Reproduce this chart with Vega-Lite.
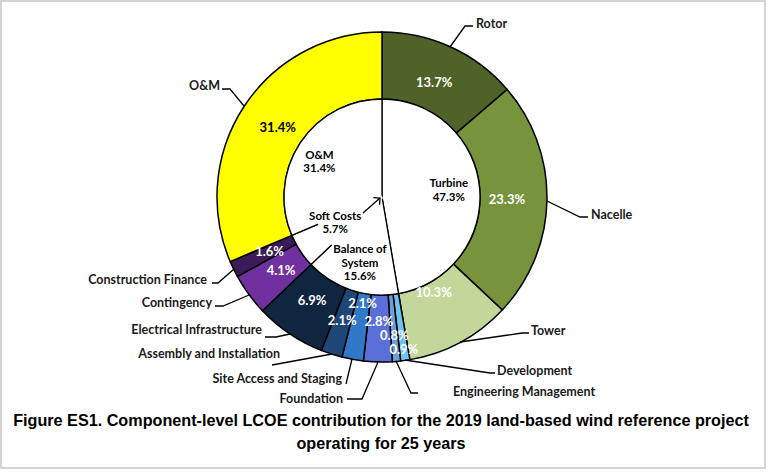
{
  "$schema": "https://vega.github.io/schema/vega-lite/v6.json",
  "width": 764,
  "height": 467,
  "autosize": {"type": "none"},
  "padding": {"left": 1, "top": 1, "right": 3, "bottom": 5},
  "background": "white",
  "view": {"stroke": "#d4d4d4", "strokeWidth": 2},
  "title": {
    "text": ["Figure ES1. Component-level LCOE contribution for the 2019 land-based wind reference project", "operating for 25 years"],
    "orient": "bottom",
    "anchor": "middle",
    "frame": "group",
    "offset": -55,
    "font": "Liberation Sans",
    "fontSize": 16.2,
    "fontWeight": "bold",
    "color": "#000000",
    "lineHeight": 23,
    "dx": -2
  },
  "datasets": {
    "components": [
      {"component": "Rotor", "group": "Turbine", "value": 13.7, "order": 1},
      {"component": "Nacelle", "group": "Turbine", "value": 23.3, "order": 2},
      {"component": "Tower", "group": "Turbine", "value": 10.3, "order": 3},
      {"component": "Development", "group": "Balance of System", "value": 0.9, "order": 4},
      {"component": "Engineering Management", "group": "Balance of System", "value": 0.8, "order": 5},
      {"component": "Foundation", "group": "Balance of System", "value": 2.8, "order": 6},
      {"component": "Site Access and Staging", "group": "Balance of System", "value": 2.1, "order": 7},
      {"component": "Assembly and Installation", "group": "Balance of System", "value": 2.1, "order": 8},
      {"component": "Electrical Infrastructure", "group": "Balance of System", "value": 6.9, "order": 9},
      {"component": "Contingency", "group": "Soft Costs", "value": 4.1, "order": 10},
      {"component": "Construction Finance", "group": "Soft Costs", "value": 1.6, "order": 11},
      {"component": "O&M", "group": "O&M", "value": 31.4, "order": 12}
    ],
    "callouts": [
      {"component": "Rotor", "x": 94, "y": 173},
      {"component": "Nacelle", "x": 209, "y": -18},
      {"component": "Tower", "x": 149, "y": -134},
      {"component": "Development", "x": 115, "y": -174},
      {"component": "Engineering Management", "x": 71, "y": -195},
      {"component": "Foundation", "x": -39, "y": -202},
      {"component": "Site Access and Staging", "x": -40, "y": -182},
      {"component": "Assembly and Installation", "x": -102, "y": -157},
      {"component": "Electrical Infrastructure", "x": -120, "y": -133},
      {"component": "Contingency", "x": -170, "y": -106},
      {"component": "Construction Finance", "x": -175, "y": -83},
      {"component": "O&M", "x": -162, "y": 111}
    ],
    "leaders": [
      {"id": "Rotor", "i": 1, "x": 68, "y": 150}, {"id": "Rotor", "i": 2, "x": 83, "y": 171}, {"id": "Rotor", "i": 3, "x": 91, "y": 171},
      {"id": "Nacelle", "i": 1, "x": 165, "y": -4}, {"id": "Nacelle", "i": 2, "x": 198, "y": -20}, {"id": "Nacelle", "i": 3, "x": 206, "y": -20},
      {"id": "Tower", "i": 1, "x": 78, "y": -145}, {"id": "Tower", "i": 2, "x": 140, "y": -136}, {"id": "Tower", "i": 3, "x": 147, "y": -136},
      {"id": "Development", "i": 1, "x": 23, "y": -163}, {"id": "Development", "i": 2, "x": 108, "y": -176}, {"id": "Development", "i": 3, "x": 113, "y": -176},
      {"id": "Engineering Management", "i": 1, "x": 14, "y": -164}, {"id": "Engineering Management", "i": 2, "x": 29, "y": -196}, {"id": "Engineering Management", "i": 3, "x": 36, "y": -196},
      {"id": "Foundation", "i": 1, "x": -4, "y": -165}, {"id": "Foundation", "i": 2, "x": -20, "y": -202}, {"id": "Foundation", "i": 3, "x": -35, "y": -202},
      {"id": "Site Access and Staging", "i": 1, "x": -30, "y": -162}, {"id": "Site Access and Staging", "i": 2, "x": -36, "y": -187},
      {"id": "Assembly and Installation", "i": 1, "x": -50, "y": -157}, {"id": "Assembly and Installation", "i": 2, "x": -110, "y": -168},
      {"id": "Electrical Infrastructure", "i": 1, "x": -92, "y": -137}, {"id": "Electrical Infrastructure", "i": 2, "x": -106, "y": -140}, {"id": "Electrical Infrastructure", "i": 3, "x": -117, "y": -140},
      {"id": "Contingency", "i": 1, "x": -133, "y": -98}, {"id": "Contingency", "i": 2, "x": -159, "y": -109}, {"id": "Contingency", "i": 3, "x": -167, "y": -109},
      {"id": "Construction Finance", "i": 1, "x": -148, "y": -72}, {"id": "Construction Finance", "i": 2, "x": -164, "y": -86}, {"id": "Construction Finance", "i": 3, "x": -170, "y": -86},
      {"id": "O&M", "i": 1, "x": -138, "y": 91}, {"id": "O&M", "i": 2, "x": -152, "y": 108}, {"id": "O&M", "i": 3, "x": -160, "y": 108},
      {"id": "arrow", "i": 1, "x": -19, "y": -16}, {"id": "arrow", "i": 2, "x": -2, "y": -1}
    ]
  },
  "layer": [
    {
      "data": {"name": "components"},
      "mark": {"type": "arc", "outerRadius": 165, "innerRadius": 98, "stroke": "#000000", "strokeWidth": 1.5},
      "encoding": {
        "x": {"value": {"expr": "scale('x', 0)"}},
        "y": {"value": {"expr": "scale('y', 0)"}},
        "theta": {"field": "value", "type": "quantitative", "stack": true, "scale": {"domain": [0, 100]}},
        "order": {"field": "order", "type": "quantitative"},
        "color": {
          "field": "component", "type": "nominal", "legend": null,
          "scale": {
            "domain": ["Rotor", "Nacelle", "Tower", "Development", "Engineering Management", "Foundation", "Site Access and Staging", "Assembly and Installation", "Electrical Infrastructure", "Contingency", "Construction Finance", "O&M"],
            "range": ["#4f6228", "#77933c", "#c4d79b", "#6ec3f0", "#6f9fd8", "#5a6fd8", "#3278c8", "#1e4677", "#10253f", "#7030a0", "#3d1a58", "#ffff00"]
          }
        }
      }
    },
    {
      "data": {"name": "components"},
      "transform": [
        {"aggregate": [{"op": "sum", "field": "value", "as": "value"}, {"op": "min", "field": "order", "as": "order"}], "groupby": ["group"]}
      ],
      "mark": {"type": "arc", "outerRadius": 98, "innerRadius": 0, "fill": "#ffffff", "stroke": "#000000", "strokeWidth": 1.3},
      "encoding": {
        "x": {"value": {"expr": "scale('x', 0)"}},
        "y": {"value": {"expr": "scale('y', 0)"}},
        "theta": {"field": "value", "type": "quantitative", "stack": true},
        "order": {"field": "order", "type": "quantitative"}
      }
    },
    {
      "data": {"name": "components"},
      "transform": [
        {"aggregate": [{"op": "sum", "field": "value", "as": "value"}, {"op": "min", "field": "order", "as": "order"}], "groupby": ["group"]},
        {"stack": "value", "groupby": [], "sort": [{"field": "order", "order": "ascending"}], "as": ["g0", "g1"]},
        {"filter": "datum.group === 'Soft Costs'"}
      ],
      "mark": {"type": "arc", "outerRadius": 68, "innerRadius": 0, "fill": "#ffffff", "stroke": "#ffffff", "strokeWidth": 3},
      "encoding": {
        "x": {"value": {"expr": "scale('x', 0)"}},
        "y": {"value": {"expr": "scale('y', 0)"}},
        "theta": {"field": "g0", "type": "quantitative"},
        "theta2": {"field": "g1"}
      }
    },
    {
      "data": {"name": "leaders"},
      "mark": {"type": "line", "color": "#000000", "strokeWidth": 1.3, "interpolate": "linear"},
      "encoding": {
        "x": {"field": "x", "type": "quantitative", "scale": {"domain": [-381, 383], "nice": false, "zero": false}, "axis": null},
        "y": {"field": "y", "type": "quantitative", "scale": {"domain": [-271, 196], "nice": false, "zero": false}, "axis": null},
        "detail": {"field": "id"},
        "order": {"field": "i", "type": "quantitative"}
      }
    },
    {
      "data": {"name": "leaders"},
      "transform": [{"filter": "datum.id === 'arrow' && datum.i === 2"}],
      "mark": {"type": "point", "shape": "M-0.6,0.6L0,0L0.6,0.6", "angle": 48.6, "size": 250, "filled": false, "stroke": "#000000", "strokeWidth": 1.3, "opacity": 1},
      "encoding": {
        "x": {"field": "x", "type": "quantitative"},
        "y": {"field": "y", "type": "quantitative"}
      }
    },
    {
      "data": {"name": "components"},
      "transform": [{"calculate": "format(datum.value, '.1f') + '%'", "as": "pct"}],
      "mark": {"type": "text", "font": "Lato", "fontSize": 13, "fontWeight": "bold", "align": "center", "baseline": "middle"},
      "encoding": {
        "x": {"value": {"expr": "scale('x', 0)"}},
        "y": {"value": {"expr": "scale('y', 0)"}},
        "theta": {"field": "value", "type": "quantitative", "stack": true},
        "order": {"field": "order", "type": "quantitative"},
        "radius": {"value": {"expr": "datum.component === 'Development' ? 155 : datum.component === 'Engineering Management' ? 140 : datum.component === 'Assembly and Installation' ? 130 : (datum.component === 'Tower' || datum.component === 'Site Access and Staging') ? 109 : 125"}},
        "text": {"field": "pct"},
        "color": {"condition": {"test": "datum.component === 'O&M'", "value": "#000000"}, "value": "#ffffff"}
      }
    },
    {
      "data": {"name": "components"},
      "transform": [
        {"aggregate": [{"op": "sum", "field": "value", "as": "value"}, {"op": "min", "field": "order", "as": "order"}], "groupby": ["group"]},
        {"calculate": "replace(datum.group, ' of ', ' of\\n') + '\\n' + format(datum.value, '.1f') + '%'", "as": "lbl"}
      ],
      "mark": {"type": "text", "font": "Lato", "fontSize": 11.5, "fontWeight": "bold", "align": "center", "baseline": "middle", "lineBreak": "\n", "lineHeight": 13.5, "color": "#000000", "dy": {"expr": "datum.group === 'Soft Costs' ? -11 : datum.group === 'Balance of System' ? -13 : datum.group === 'Turbine' ? -7 : 0"}},
      "encoding": {
        "x": {"value": {"expr": "scale('x', 0)"}},
        "y": {"value": {"expr": "scale('y', 0)"}},
        "theta": {"field": "value", "type": "quantitative", "stack": true},
        "order": {"field": "order", "type": "quantitative"},
        "radius": {"value": {"expr": "datum.group === 'Turbine' ? 67 : datum.group === 'O&M' ? 75 : datum.group === 'Soft Costs' ? 56 : 70"}},
        "text": {"field": "lbl"}
      }
    },
    {
      "data": {"name": "callouts"},
      "transform": [{"filter": "datum.x >= 0"}],
      "mark": {"type": "text", "font": "Lato", "fontSize": 12.5, "fontWeight": "bold", "align": "left", "baseline": "middle", "color": "#1a1a1a"},
      "encoding": {
        "x": {"field": "x", "type": "quantitative"},
        "y": {"field": "y", "type": "quantitative"},
        "text": {"field": "component"}
      }
    },
    {
      "data": {"name": "callouts"},
      "transform": [{"filter": "datum.x < 0"}],
      "mark": {"type": "text", "font": "Lato", "fontSize": 12.5, "fontWeight": "bold", "align": "right", "baseline": "middle", "color": "#1a1a1a"},
      "encoding": {
        "x": {"field": "x", "type": "quantitative"},
        "y": {"field": "y", "type": "quantitative"},
        "text": {"field": "component"}
      }
    }
  ]
}
